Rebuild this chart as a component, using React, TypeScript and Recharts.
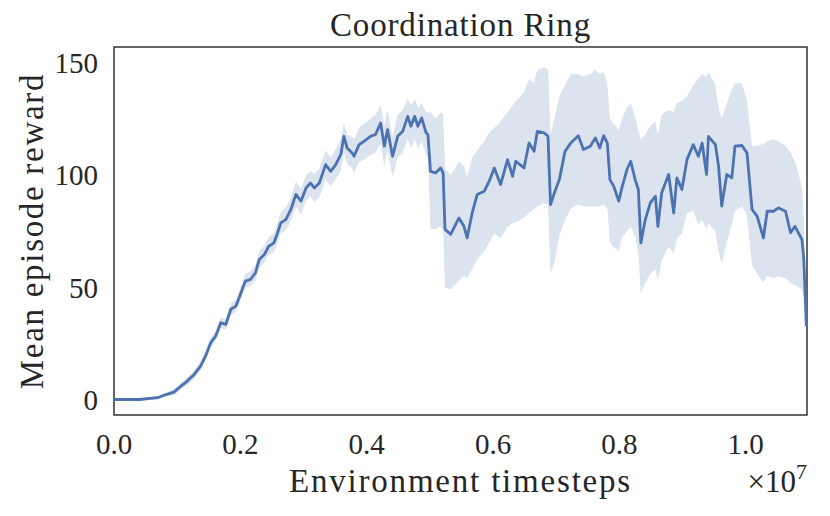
import { ComposedChart, Area, Line, XAxis, YAxis, ReferenceArea } from 'recharts'

// timesteps are in millions, the axis shows them in units of 1e7
const steps = [
  0, 0.4, 0.69, 0.79, 0.95, 1.06, 1.16, 1.27, 1.37, 1.45,
  1.53, 1.61, 1.69, 1.77, 1.85, 1.93, 2.01, 2.08, 2.16, 2.24,
  2.3, 2.38, 2.45, 2.53, 2.59, 2.64, 2.72, 2.8, 2.88, 2.96,
  3.04, 3.11, 3.17, 3.25, 3.35, 3.43, 3.51, 3.59, 3.64, 3.69,
  3.77, 3.8, 3.88, 3.96, 4.06, 4.14, 4.22, 4.28, 4.33, 4.41,
  4.49, 4.57, 4.65, 4.7, 4.76, 4.81, 4.87, 4.94, 4.97, 5.01,
  5.09, 5.17, 5.21, 5.24, 5.33, 5.46, 5.54, 5.59, 5.67, 5.75,
  5.86, 5.94, 6.02, 6.12, 6.23, 6.31, 6.36, 6.49, 6.57, 6.65,
  6.7, 6.81, 6.87, 6.91, 6.98, 7.05, 7.14, 7.23, 7.35, 7.43,
  7.54, 7.62, 7.69, 7.75, 7.81, 7.85, 7.91, 7.99, 8.04, 8.12,
  8.18, 8.25, 8.3, 8.34, 8.41, 8.49, 8.57, 8.61, 8.67, 8.78,
  8.86, 8.91, 8.99, 9.07, 9.17, 9.25, 9.31, 9.38, 9.41, 9.52,
  9.57, 9.62, 9.7, 9.78, 9.83, 9.94, 10.02, 10.1, 10.18, 10.28,
  10.34, 10.44, 10.52, 10.63, 10.71, 10.78, 10.89, 10.92, 10.96,
]

const meanReward = [
  0, 0, 0.8, 1.9, 3.3, 6, 8.2, 11.2, 14.9, 19.4,
  25.3, 28.3, 34.2, 33.5, 40.2, 41.6, 47.6, 52.8, 53.5, 56.5,
  62.4, 64.6, 68.3, 69.8, 74.3, 78.7, 80.2, 84.7, 91.4, 88.4,
  94.3, 96.5, 94.3, 96.5, 104.7, 101.7, 104.7, 109.2, 117.3, 112.1,
  109.9, 108.4, 113.6, 115.1, 117.3, 118.1, 123.2, 112.9, 120.3, 108.4,
  117.3, 119.5, 126.2, 121.8, 126.2, 121.8, 125.5, 118.8, 118.1, 101.7,
  101, 103.2, 101, 75.8, 73.6, 80.9, 77.2, 72, 83.2, 91.4,
  92.8, 97.3, 103.2, 95.8, 106.9, 99.5, 106.2, 103.2, 114.3, 110.6,
  119.5, 118.8, 117.3, 86.9, 92.8, 98, 110.6, 114.3, 117.6, 111.4,
  112.9, 116.6, 112.1, 117.6, 114.3, 98, 95.1, 88.4, 94.3, 102.5,
  106.2, 98, 93.6, 69.8, 80.2, 87.6, 90.6, 77.2, 92.1, 100.3,
  83.2, 98.8, 93.6, 106.9, 113.6, 108.4, 114.3, 100.3, 117.3, 113.6,
  104, 86.2, 100.3, 98.8, 112.9, 113.2, 109.9, 84.7, 81.7, 72,
  83.9, 83.9, 85.4, 83.9, 74.3, 77.2, 71.3, 62.4, 32.7,
]

const rewardLow = [
  -0.5, -0.5, 0, 1, 2, 4.5, 6.5, 9.5, 13, 17.5,
  23, 26, 32, 31, 37.5, 39, 45, 50, 50.5, 53,
  59, 61, 64.5, 65.5, 70, 74, 75.5, 79.5, 86, 82.5,
  88.5, 90.5, 88, 90, 98, 95, 98, 102, 110, 105,
  103, 101, 106, 107, 109, 110, 114, 104, 111, 99,
  108, 110, 116, 112, 116, 112, 115, 109, 108, 76,
  76, 77, 76, 50, 49, 53, 55, 54, 58, 62.5,
  66, 70, 74, 72, 77, 78.5, 79, 81, 83, 85,
  86, 87.5, 87, 56, 62, 73, 80, 85, 87, 86,
  86, 86, 86, 87, 85, 70, 68, 66, 72, 75,
  77, 73, 65, 47.5, 52, 56, 58, 53, 62, 68,
  65, 72, 74, 83, 84, 78, 80, 76, 78.6, 75,
  66, 60.7, 70, 78, 84, 86, 82, 60, 56, 52,
  55, 54, 55, 54, 52, 51, 49, 45, 30,
]

const rewardHigh = [
  0.5, 0.5, 1.6, 2.8, 4.6, 7.5, 10, 13, 17, 21.5,
  27.5, 30.5, 36.5, 36, 43, 44.5, 50.5, 56, 57, 60,
  66, 68.5, 72.5, 74, 79, 83.5, 85.5, 90, 97, 94,
  100, 102, 100.5, 103, 111, 108, 111.5, 116, 123, 118,
  117, 116, 121, 123, 125, 127, 131, 122, 129, 117,
  127, 129, 134, 131, 134, 130, 132, 128, 128, 128,
  125, 128, 127, 103, 100, 106, 104, 99, 108, 111,
  115, 119, 121, 124, 128, 131, 133, 137, 143, 141,
  147, 148, 147, 118, 126, 135, 140, 145, 145, 144,
  145, 147, 145, 146, 140, 125, 123, 120, 125, 130,
  132, 126, 120, 116, 118, 122, 124, 118, 127, 129,
  128, 132, 133, 135, 140, 143, 145, 144, 146, 140,
  130, 125, 132, 138, 141, 141, 133, 113, 113, 114,
  115, 116, 115, 113, 110, 106, 95, 80, 36,
]

const xTicks = [0, 2, 4, 6, 8, 10]
const yTicks = [0, 50, 100, 150]
const xDomain = [0, 10.97]
const yDomain = [-6.9, 157.1]

const data = steps.map((t, i) => ({
  t,
  mean: meanReward[i],
  band: [rewardLow[i], rewardHigh[i]],
}))

const FONT = "'Liberation Serif', 'Times New Roman', serif"
const TEXT = '#262626'
const BLUE = '#4c72b0'

function XLabel(props: any) {
  const { x, y, width } = props.viewBox
  return (
    <g fontFamily={FONT} fill={TEXT}>
      <text x={x + width / 2} y={y + 77} textAnchor="middle" fontSize={33} letterSpacing={1.8}>
        Environment timesteps
      </text>
      <text x={x + width} y={y + 77} textAnchor="end" fontSize={31}>
        ×10
        <tspan dy={-13} fontSize={22}>
          7
        </tspan>
      </text>
    </g>
  )
}

function YLabel(props: any) {
  const { y, height } = props.viewBox
  const cy = y + height / 2
  return (
    <text
      x={43}
      y={cy}
      transform={`rotate(-90, 43, ${cy})`}
      textAnchor="middle"
      fontFamily={FONT}
      fontSize={33}
      letterSpacing={1.7}
      fill={TEXT}
    >
      Mean episode reward
    </text>
  )
}

export default function App() {
  return (
    <div style={{ position: 'absolute', left: 0, top: 0, width: 830, height: 516, background: '#fff' }}>
      <ComposedChart width={830} height={516} data={data} margin={{ top: 47, right: 23, bottom: 0, left: 0 }}>
        <XAxis
          type="number"
          dataKey="t"
          domain={xDomain}
          ticks={xTicks}
          interval={0}
          height={101}
          axisLine={false}
          tickLine={false}
          tickMargin={12}
          tickFormatter={(v: number) => (v / 10).toFixed(1)}
          tick={{ fill: TEXT, fontSize: 29, fontFamily: FONT }}
          label={XLabel}
        />
        <YAxis
          type="number"
          domain={yDomain}
          ticks={yTicks}
          interval={0}
          width={114}
          axisLine={false}
          tickLine={false}
          tickMargin={10}
          tick={{ fill: TEXT, fontSize: 29, fontFamily: FONT }}
          label={YLabel}
        />
        <Area
          type="linear"
          dataKey="band"
          stroke="none"
          fill={BLUE}
          fillOpacity={0.2}
          isAnimationActive={false}
          activeDot={false}
        />
        <Line
          type="linear"
          dataKey="mean"
          stroke={BLUE}
          strokeWidth={2.8}
          strokeLinejoin="round"
          dot={false}
          activeDot={false}
          isAnimationActive={false}
        />
        <ReferenceArea
          x1={xDomain[0]}
          x2={xDomain[1]}
          y1={yDomain[0]}
          y2={yDomain[1]}
          fill="none"
          stroke="#333"
          strokeWidth={1.5}
          label={{
            value: 'Coordination Ring',
            position: 'top',
            offset: 11,
            fill: TEXT,
            fontSize: 33,
            fontFamily: FONT,
            letterSpacing: 0.85,
          }}
        />
      </ComposedChart>
    </div>
  )
}
